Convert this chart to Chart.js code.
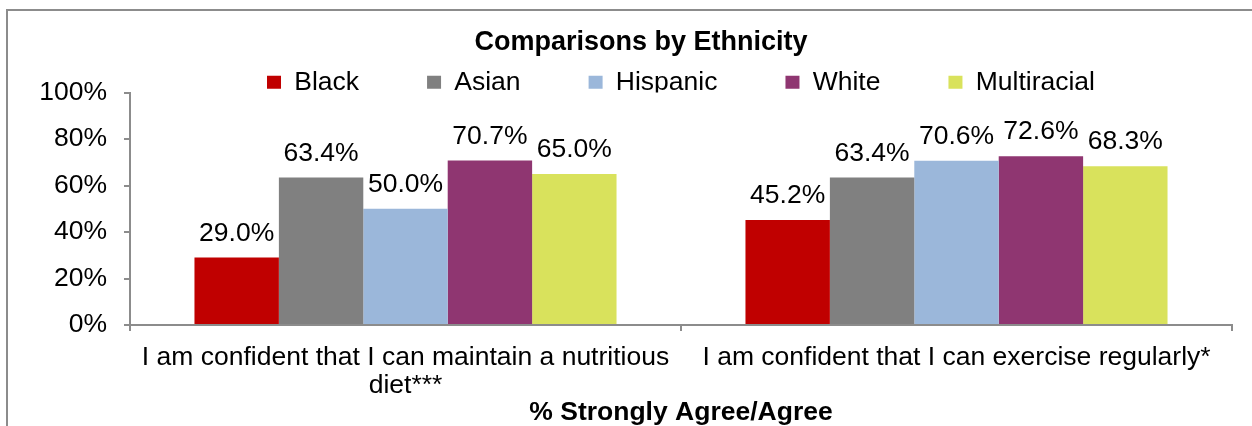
<!DOCTYPE html>
<html>
<head>
<meta charset="utf-8">
<script src="https://cdn.jsdelivr.net/npm/chart.js@4"></script>
<style>
  html, body { margin: 0; padding: 0; background: #fff; overflow: hidden; }
  #chart { display: block; }
</style>
</head>
<body>
<canvas id="chart" width="1252" height="426"></canvas>
<script>
const categories = [
  ['I am confident that I can maintain a nutritious', 'diet***'],
  'I am confident that I can exercise regularly*'
];
const seriesNames = ['Black', 'Asian', 'Hispanic', 'White', 'Multiracial'];
const black = [29.0, 45.2];
const asian = [63.4, 63.4];
const hispanic = [50.0, 70.6];
const white = [70.7, 72.6];
const multiracial = [65.0, 68.3];
const yTickLabels = ['0%', '20%', '40%', '60%', '80%', '100%'];

const colors = ['#C00000', '#808080', '#9BB7DA', '#8F3671', '#D9E25C'];
const axisGrey = '#8c8c8c';
const font = '"Liberation Sans", Arial, sans-serif';

// frame round the chart (only top and left edges fall inside the picture)
const frame = {
  id: 'frame',
  beforeDraw(chart) {
    const ctx = chart.ctx;
    ctx.save();
    ctx.fillStyle = axisGrey;
    ctx.fillRect(6, 9, 2, chart.height);
    ctx.fillRect(6, 9, chart.width, 2);
    ctx.restore();
  }
};

// value labels above each bar
const barValues = {
  id: 'barValues',
  afterDatasetsDraw(chart) {
    const ctx = chart.ctx;
    ctx.save();
    ctx.font = '26.5px ' + font;
    ctx.fillStyle = '#000';
    ctx.textAlign = 'center';
    ctx.textBaseline = 'alphabetic';
    chart.data.datasets.forEach((ds, i) => {
      chart.getDatasetMeta(i).data.forEach((bar, j) => {
        ctx.fillText(ds.data[j].toFixed(1) + '%', bar.x, bar.y - 17);
      });
    });
    ctx.restore();
  }
};

// the legend gap is wide sideways; don't let it eat vertical room.
// the title sits a little right of the canvas centre in the original
const placement = {
  id: 'placement',
  afterInit(chart) {
    const legend = chart.legend;
    const fit = legend.fit;
    legend.fit = function () {
      fit.call(this);
      this.height -= this.options.labels.padding;
    };
  },
  afterLayout(chart) {
    chart.legend.top -= chart.legend.options.labels.padding - 13;
    chart.titleBlock.left += 50;
  }
};

const seriesData = [black, asian, hispanic, white, multiracial];

new Chart(document.getElementById('chart'), {
  type: 'bar',
  data: {
    labels: categories,
    datasets: seriesNames.map((name, i) => ({
      label: name,
      data: seriesData[i],
      backgroundColor: colors[i],
      borderWidth: 0,
      categoryPercentage: 0.766,
      barPercentage: 1
    }))
  },
  options: {
    responsive: false,
    animation: false,
    layout: { padding: { top: 9, left: 0, right: 20, bottom: 0 } },
    plugins: {
      title: {
        display: true,
        text: 'Comparisons by Ethnicity',
        color: '#000',
        font: { family: font, size: 27, weight: 'bold', lineHeight: 1.0 },
        padding: { top: 20, bottom: 0 }
      },
      legend: {
        position: 'top',
        fullSize: false,
        labels: {
          color: '#000',
          font: { family: font, size: 26.5 },
          boxWidth: 14,
          boxHeight: 13,
          padding: 68
        }
      },
      tooltip: { enabled: false }
    },
    scales: {
      x: {
        afterFit(scale) { scale.height = 426 - 325; },
        border: { color: axisGrey, width: 2 },
        grid: { drawOnChartArea: false, color: axisGrey, lineWidth: 2, tickLength: 6 },
        ticks: {
          color: '#000',
          font: { family: font, size: 26.5, lineHeight: 1.08 },
          padding: 12,
          maxRotation: 0,
          autoSkip: false
        },
        title: {
          display: true,
          text: '% Strongly Agree/Agree',
          color: '#000',
          font: { family: font, size: 26.5, weight: 'bold', lineHeight: 1.0 },
          padding: { top: 0, bottom: 0 }
        }
      },
      y: {
        min: 0,
        max: 100,
        afterFit(scale) { scale.width = 130; },
        border: { color: axisGrey, width: 2 },
        grid: { drawOnChartArea: false, color: axisGrey, lineWidth: 2, tickLength: 6 },
        ticks: {
          stepSize: 20,
          color: '#000',
          font: { family: font, size: 26.5 },
          padding: 17,
          callback: (v, i) => yTickLabels[i]
        }
      }
    }
  },
  plugins: [frame, barValues, placement]
});
</script>
</body>
</html>
